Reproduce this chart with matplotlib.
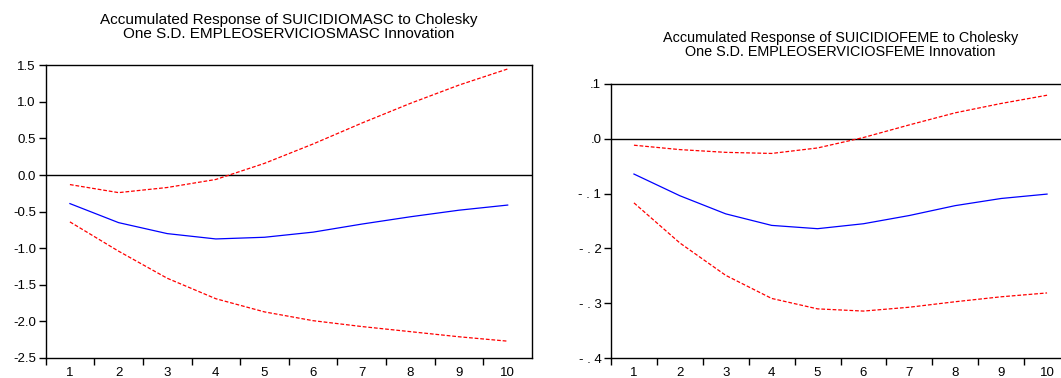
import matplotlib
matplotlib.use("Agg")
import matplotlib.pyplot as plt

plt.rcParams["font.family"] = ["Liberation Sans", "DejaVu Sans"]

periods = [1, 2, 3, 4, 5, 6, 7, 8, 9, 10]

# Accumulated response, male suicide to male services employment
masc_resp = [-0.39, -0.65, -0.80, -0.873, -0.85, -0.78, -0.67, -0.57, -0.48, -0.41]
masc_upper = [-0.13, -0.24, -0.17, -0.06, 0.16, 0.425, 0.71, 0.98, 1.23, 1.45]
masc_lower = [-0.64, -1.04, -1.41, -1.69, -1.87, -1.99, -2.07, -2.14, -2.21, -2.27]
masc_yticks = [1.5, 1.0, 0.5, 0.0, -0.5, -1.0, -1.5, -2.0, -2.5]
masc_ylabels = ["1.5", "1.0", "0.5", "0.0", "-0.5", "-1.0", "-1.5", "-2.0", "-2.5"]

# Accumulated response, female suicide to female services employment
feme_resp = [-0.0645, -0.104, -0.137, -0.158, -0.164, -0.155, -0.140, -0.122, -0.109, -0.101]
feme_upper = [-0.012, -0.020, -0.025, -0.027, -0.017, 0.002, 0.025, 0.047, 0.064, 0.079]
feme_lower = [-0.117, -0.190, -0.249, -0.291, -0.310, -0.314, -0.307, -0.297, -0.288, -0.281]
feme_yticks = [0.1, 0.0, -0.1, -0.2, -0.3, -0.4]
feme_ylabels = [".1", ".0", "- . 1", "- . 2", "- . 3", "- . 4"]

W, H = 1061, 378
fig = plt.figure(figsize=(W / 100, H / 100), dpi=100)


def px_axes(x0, y0, x1, y1):
    return fig.add_axes([x0 / W, 1 - y1 / H, (x1 - x0) / W, (y1 - y0) / H])


def draw_panel(ax, resp, upper, lower, yticks, ylabels, ylim, title, title_size):
    ax.axhline(0, color="black", lw=1.0, zorder=1)
    ax.plot(periods, resp, color="blue", lw=0.9, zorder=3)
    ax.plot(periods, upper, color="red", lw=0.9, ls=(0, (3, 1.5)), zorder=2)
    ax.plot(periods, lower, color="red", lw=0.9, ls=(0, (3, 1.5)), zorder=2)
    ax.set_xlim(0.5, 10.5)
    ax.set_ylim(*ylim)
    ax.set_yticks(yticks)
    ax.set_yticklabels(ylabels)
    ax.set_xticks(periods)
    ax.set_xticklabels([str(p) for p in periods])
    # small ticks sit between the period labels
    ax.set_xticks([p + 0.5 for p in range(0, 10)], minor=True)
    ax.tick_params(axis="x", which="major", length=0, pad=6.5, labelsize=9.5)
    ax.tick_params(axis="x", which="minor", length=5, width=1, direction="out")
    ax.tick_params(axis="y", length=5, width=1, direction="out", pad=2, labelsize=9.5)
    for s in ax.spines.values():
        s.set_linewidth(1.0)
    ax.set_title(title, fontsize=title_size, pad=20, linespacing=1.0)


ax1 = px_axes(45.6, 65.3, 532, 358)
draw_panel(ax1, masc_resp, masc_upper, masc_lower, masc_yticks, masc_ylabels, (-2.5, 1.5),
           "Accumulated Response of SUICIDIOMASC to Cholesky\nOne S.D. EMPLEOSERVICIOSMASC Innovation",
           11)

ax2 = px_axes(611, 83.7, 1070, 358.3)
draw_panel(ax2, feme_resp, feme_upper, feme_lower, feme_yticks, feme_ylabels, (-0.4, 0.1),
           "Accumulated Response of SUICIDIOFEME to Cholesky\nOne S.D. EMPLEOSERVICIOSFEME Innovation",
           10.4)

fig.savefig("out.png", dpi=100)
